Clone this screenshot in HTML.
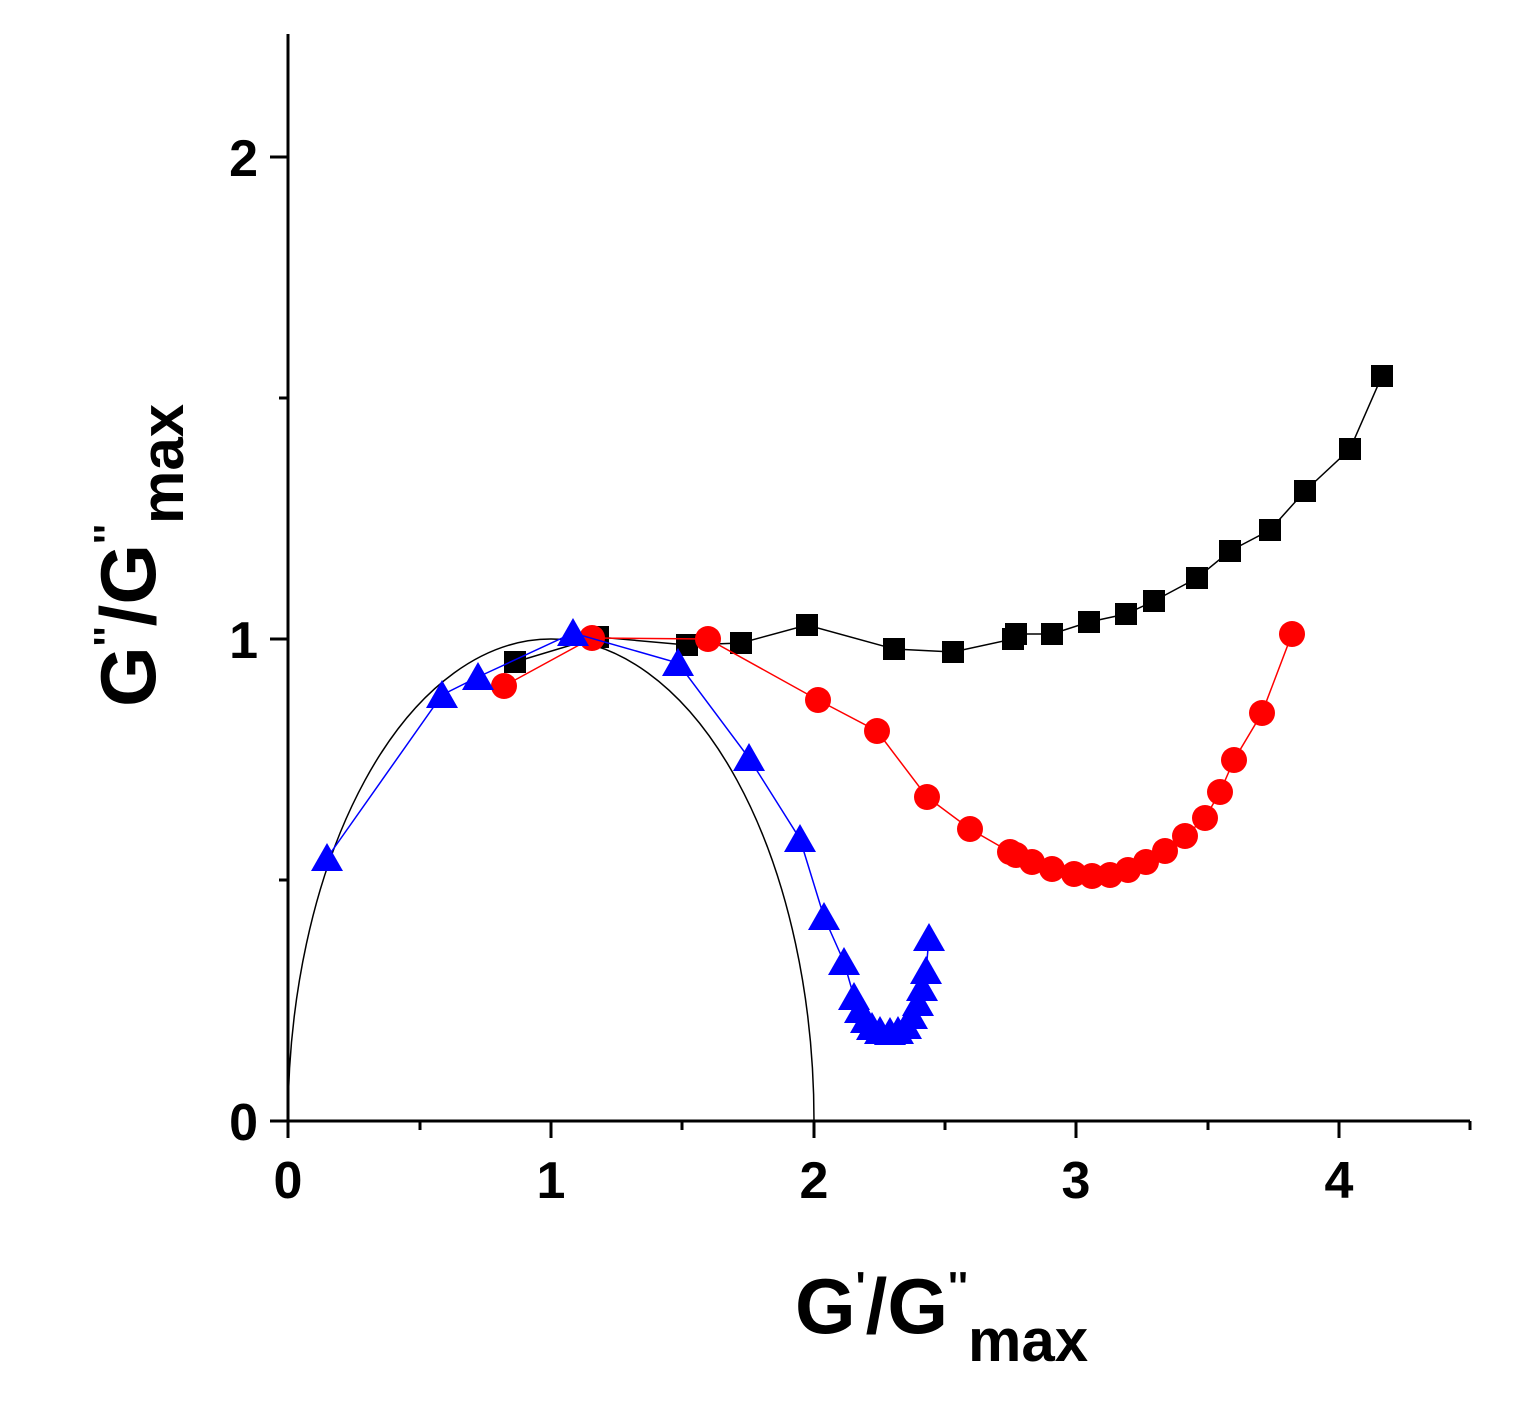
<!DOCTYPE html>
<html><head><style>body{margin:0;background:#fff}svg{display:block}text{font-family:"Liberation Sans",Arial,sans-serif;font-weight:bold}</style></head><body>
<svg width="1519" height="1406" viewBox="0 0 1519 1406" xmlns="http://www.w3.org/2000/svg">
<g stroke="#000" stroke-width="3" fill="none">
<line x1="288" y1="34" x2="288" y2="1138"/>
<line x1="270" y1="1121" x2="1470" y2="1121"/>
<line x1="551" y1="1121" x2="551" y2="1138"/><line x1="814" y1="1121" x2="814" y2="1138"/><line x1="1076" y1="1121" x2="1076" y2="1138"/><line x1="1339" y1="1121" x2="1339" y2="1138"/>
<line x1="420" y1="1121" x2="420" y2="1130"/><line x1="682" y1="1121" x2="682" y2="1130"/><line x1="945" y1="1121" x2="945" y2="1130"/><line x1="1208" y1="1121" x2="1208" y2="1130"/><line x1="1470" y1="1121" x2="1470" y2="1130"/>
<line x1="270" y1="639" x2="288" y2="639"/><line x1="270" y1="157" x2="288" y2="157"/>
<line x1="279" y1="880" x2="288" y2="880"/><line x1="279" y1="398" x2="288" y2="398"/>
</g>
<g font-size="52" text-anchor="middle">
<text x="288" y="1198">0</text><text x="551" y="1198">1</text><text x="814" y="1198">2</text><text x="1076" y="1198">3</text><text x="1339" y="1198">4</text>
</g>
<g font-size="52" text-anchor="end">
<text x="258" y="1140">0</text><text x="258" y="658">1</text><text x="258" y="176">2</text>
</g>
<text x="795" y="1333" font-size="78">G<tspan dy="-32" font-size="42">'</tspan><tspan dy="32">/G</tspan><tspan dy="-32" font-size="42">''</tspan><tspan dy="60" font-size="60">max</tspan></text>
<text transform="translate(155,707) rotate(-90)" font-size="78">G<tspan dy="-32" font-size="42">''</tspan><tspan dy="32">/G</tspan><tspan dy="-32" font-size="42">''</tspan><tspan dy="60" font-size="60">max</tspan></text>
<path d="M288 1121 A263 482 0 0 1 814 1121" stroke="#000" stroke-width="1.5" fill="none"/>
<polyline fill="none" stroke="#000" stroke-width="1.5" points="515,662 598,637 687,645 741,643 807,625 894,649 953,652 1013,639 1016,634 1052,634 1089,622 1126,614 1154,601 1197,578 1230,551 1270,530 1305,491 1350,449 1382,376"/>
<g fill="#000">
<rect x="504" y="651" width="22" height="22"/><rect x="587" y="626" width="22" height="22"/><rect x="676" y="634" width="22" height="22"/><rect x="730" y="632" width="22" height="22"/><rect x="796" y="614" width="22" height="22"/><rect x="883" y="638" width="22" height="22"/><rect x="942" y="641" width="22" height="22"/><rect x="1002" y="628" width="22" height="22"/><rect x="1005" y="623" width="22" height="22"/><rect x="1041" y="623" width="22" height="22"/><rect x="1078" y="611" width="22" height="22"/><rect x="1115" y="603" width="22" height="22"/><rect x="1143" y="590" width="22" height="22"/><rect x="1186" y="567" width="22" height="22"/><rect x="1219" y="540" width="22" height="22"/><rect x="1259" y="519" width="22" height="22"/><rect x="1294" y="480" width="22" height="22"/><rect x="1339" y="438" width="22" height="22"/><rect x="1371" y="365" width="22" height="22"/>
</g>
<polyline fill="none" stroke="#f00" stroke-width="1.5" points="504,686 592,638 708,639 818,700 877,731 927,797 970,829 1010,852 1016,855 1032,862 1052,869 1074,874 1092,876 1110,875 1128,870 1146,862 1165,851 1185,836 1205,818 1220,792 1234,760 1262,713 1292,634"/>
<g fill="#f00">
<circle cx="504" cy="686" r="13"/><circle cx="592" cy="638" r="13"/><circle cx="708" cy="639" r="13"/><circle cx="818" cy="700" r="13"/><circle cx="877" cy="731" r="13"/><circle cx="927" cy="797" r="13"/><circle cx="970" cy="829" r="13"/><circle cx="1010" cy="852" r="13"/><circle cx="1016" cy="855" r="13"/><circle cx="1032" cy="862" r="13"/><circle cx="1052" cy="869" r="13"/><circle cx="1074" cy="874" r="13"/><circle cx="1092" cy="876" r="13"/><circle cx="1110" cy="875" r="13"/><circle cx="1128" cy="870" r="13"/><circle cx="1146" cy="862" r="13"/><circle cx="1165" cy="851" r="13"/><circle cx="1185" cy="836" r="13"/><circle cx="1205" cy="818" r="13"/><circle cx="1220" cy="792" r="13"/><circle cx="1234" cy="760" r="13"/><circle cx="1262" cy="713" r="13"/><circle cx="1292" cy="634" r="13"/>
</g>
<polyline fill="none" stroke="#00f" stroke-width="1.5" points="327,858 442,695 478,677 573,633 678,663 749,758 800,839 824,917 844,962 854,997 860,1010 866,1020 872,1027 880,1031 890,1032 898,1031 906,1026 912,1016 918,1003 922,988 926,971 929,938"/>
<g fill="#00f">
<path d="M327,843 l16,28 h-32z"/><path d="M442,680 l16,28 h-32z"/><path d="M478,662 l16,28 h-32z"/><path d="M573,618 l16,28 h-32z"/><path d="M678,648 l16,28 h-32z"/><path d="M749,743 l16,28 h-32z"/><path d="M800,824 l16,28 h-32z"/><path d="M824,902 l16,28 h-32z"/><path d="M844,947 l16,28 h-32z"/><path d="M854,982 l16,28 h-32z"/><path d="M860,995 l16,28 h-32z"/><path d="M866,1005 l16,28 h-32z"/><path d="M872,1012 l16,28 h-32z"/><path d="M880,1016 l16,28 h-32z"/><path d="M890,1017 l16,28 h-32z"/><path d="M898,1016 l16,28 h-32z"/><path d="M906,1011 l16,28 h-32z"/><path d="M912,1001 l16,28 h-32z"/><path d="M918,988 l16,28 h-32z"/><path d="M922,973 l16,28 h-32z"/><path d="M926,956 l16,28 h-32z"/><path d="M929,923 l16,28 h-32z"/>
</g>
</svg>
</body></html>
